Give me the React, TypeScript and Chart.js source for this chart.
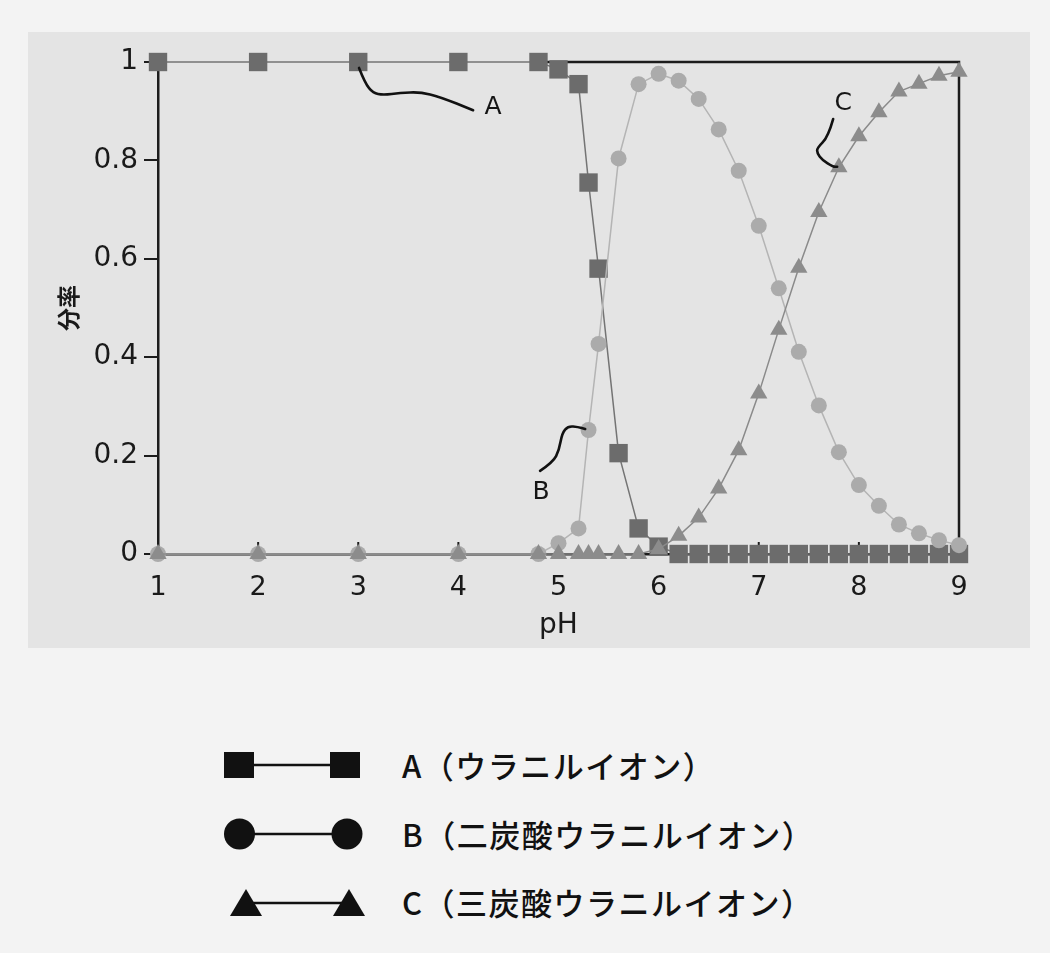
import React, { useEffect, useRef } from "react";
import { Chart, registerables } from "chart.js";

Chart.register(...registerables);

// ---- data ----
const pH = [1, 2, 3, 4, 4.8, 5.0, 5.2, 5.3, 5.4, 5.6, 5.8, 6.0, 6.2, 6.4, 6.6, 6.8, 7.0, 7.2, 7.4, 7.6, 7.8, 8.0, 8.2, 8.4, 8.6, 8.8, 9.0];
const seriesA = [1, 1, 1, 1, 1, 0.985, 0.955, 0.755, 0.58, 0.205, 0.052, 0.015, 0, 0, 0, 0, 0, 0, 0, 0, 0, 0, 0, 0, 0, 0, 0];
const seriesB = [0, 0, 0, 0, 0, 0.022, 0.052, 0.252, 0.427, 0.804, 0.955, 0.976, 0.962, 0.925, 0.863, 0.779, 0.667, 0.54, 0.411, 0.302, 0.207, 0.14, 0.098, 0.06, 0.042, 0.028, 0.018];
const seriesC = [0, 0, 0, 0, 0, 0, 0, 0, 0, 0, 0, 0.01, 0.037, 0.074, 0.133, 0.211, 0.326, 0.456, 0.582, 0.695, 0.786, 0.849, 0.898, 0.94, 0.956, 0.972, 0.98];
const xTicks = [1, 2, 3, 4, 5, 6, 7, 8, 9];
const yTicks = [0, 0.2, 0.4, 0.6, 0.8, 1];
const seriesNames = ["A（ウラニルイオン）", "B（二炭酸ウラニルイオン）", "C（三炭酸ウラニルイオン）"];
const xTitle = "pH";
const yTitle = "分率";
const topBorderStart = 4.8;

// annotation call-outs (data units)
const annLabels = ["A", "B", "C"];
const annLabelPos = [[4.347, 0.907], [4.826, 0.124], [7.843, 0.915]];
const annPathA = [[3.008, 0.988], [3.068, 0.957], [3.148, 0.937], [3.248, 0.933], [3.418, 0.937], [3.618, 0.939], [3.817, 0.929], [4.147, 0.902]];
const annPathB = [[4.816, 0.169], [4.946, 0.187], [5.006, 0.211], [5.036, 0.246], [5.096, 0.26], [5.196, 0.258], [5.266, 0.254]];
const annPathC = [[7.743, 0.884], [7.693, 0.848], [7.583, 0.825], [7.583, 0.815], [7.633, 0.801], [7.743, 0.787], [7.783, 0.787]];

const AXIS = "#1c1c1c";
const TEXT = "#1a1a1a";

const framePlugin = {
  id: "frame",
  beforeDatasetsDraw(chart: any) {
    const { ctx, chartArea: ca, scales } = chart;
    const x = scales.x;
    ctx.save();
    ctx.strokeStyle = AXIS;
    ctx.lineWidth = 2.5;
    ctx.lineCap = "square";
    ctx.beginPath();
    ctx.moveTo(x.getPixelForValue(topBorderStart), ca.top);
    ctx.lineTo(ca.right, ca.top);
    ctx.lineTo(ca.right, ca.bottom);
    ctx.stroke();
    ctx.lineCap = "butt";
    ctx.lineWidth = 2;
    for (const t of xTicks) {
      const px = x.getPixelForValue(t);
      ctx.beginPath();
      ctx.moveTo(px, ca.bottom);
      ctx.lineTo(px, ca.bottom - 12);
      ctx.stroke();
    }
    ctx.restore();
  },
};

const annotationPlugin = {
  id: "callouts",
  afterDatasetsDraw(chart: any) {
    const { ctx, scales } = chart;
    const x = scales.x;
    const y = scales.y;
    const toPx = (p: number[]) => [x.getPixelForValue(p[0]), y.getPixelForValue(p[1])];
    ctx.save();
    ctx.strokeStyle = "#111";
    ctx.lineWidth = 2.6;
    ctx.lineCap = "round";
    ctx.lineJoin = "round";
    for (const path of [annPathA, annPathB, annPathC]) {
      const pts = path.map(toPx);
      ctx.beginPath();
      ctx.moveTo(pts[0][0], pts[0][1]);
      for (let i = 1; i < pts.length - 1; i++) {
        const mx = (pts[i][0] + pts[i + 1][0]) / 2;
        const my = (pts[i][1] + pts[i + 1][1]) / 2;
        ctx.quadraticCurveTo(pts[i][0], pts[i][1], mx, my);
      }
      const last = pts[pts.length - 1];
      ctx.lineTo(last[0], last[1]);
      ctx.stroke();
    }
    ctx.fillStyle = "#151515";
    ctx.font = "25px 'DejaVu Sans'";
    ctx.textAlign = "center";
    ctx.textBaseline = "middle";
    annLabels.forEach((t, i) => {
      const [px, py] = toPx(annLabelPos[i]);
      ctx.fillText(t, px, py);
    });
    ctx.restore();
  },
};

function LegendRow({ kind, cy, text }: { kind: string; cy: number; text: string }) {
  const c = "#111";
  let marks: any = null;
  if (kind === "rect") {
    marks = (
      <>
        <rect x={4} y={7} width={30} height={26} fill={c} />
        <rect x={110} y={7} width={30} height={26} fill={c} />
      </>
    );
  } else if (kind === "circle") {
    marks = (
      <>
        <circle cx={19.5} cy={20} r={15.5} fill={c} />
        <circle cx={127} cy={20} r={15.5} fill={c} />
      </>
    );
  } else {
    marks = (
      <>
        <polygon points="26,7 10,34 42,34" fill={c} />
        <polygon points="129,7 113,34 145,34" fill={c} />
      </>
    );
  }
  const lineY = kind === "triangle" ? 21 : 20;
  return (
    <>
      <svg width={150} height={40} style={{ position: "absolute", left: 220, top: cy - 20 }}>
        <line x1={20} y1={lineY} x2={125} y2={lineY} stroke={c} strokeWidth={2.5} />
        {marks}
      </svg>
      <div
        style={{
          position: "absolute",
          left: 402,
          top: cy - 21,
          height: 42,
          lineHeight: "42px",
          fontSize: 31,
          fontWeight: 500,
          letterSpacing: "1.5px",
          fontFamily: "'Noto Sans CJK JP', 'Noto Sans', sans-serif",
          color: "#111",
          whiteSpace: "nowrap",
        }}
      >
        {text}
      </div>
    </>
  );
}

export default function App() {
  const ref = useRef<HTMLCanvasElement>(null);

  useEffect(() => {
    const canvas = ref.current;
    if (!canvas) return;
    const mk = (arr: number[]) => pH.map((v, i) => ({ x: v, y: arr[i] }));
    const chart = new Chart(canvas, {
      type: "line",
      data: {
        datasets: [
          {
            label: seriesNames[0],
            data: mk(seriesA),
            borderColor: "#747474",
            borderWidth: 1.5,
            pointStyle: "rect",
            pointRadius: 13,
            pointBackgroundColor: "#6c6c6c",
            pointBorderColor: "#6c6c6c",
            pointBorderWidth: 0,
            tension: 0,
            order: 3,
            clip: false,
          } as any,
          {
            label: seriesNames[1],
            data: mk(seriesB),
            borderColor: "#b4b4b4",
            borderWidth: 1.5,
            pointStyle: "circle",
            pointRadius: 8,
            pointBackgroundColor: "#ababab",
            pointBorderColor: "#ababab",
            pointBorderWidth: 0,
            tension: 0,
            order: 2,
            clip: false,
          } as any,
          {
            label: seriesNames[2],
            data: mk(seriesC),
            borderColor: "#8a8a8a",
            borderWidth: 1.5,
            pointStyle: "triangle",
            pointRadius: 10,
            pointBackgroundColor: "#8c8c8c",
            pointBorderColor: "#8c8c8c",
            pointBorderWidth: 0,
            tension: 0,
            order: 1,
            clip: false,
          } as any,
        ],
      },
      options: {
        animation: false,
        responsive: false,
        devicePixelRatio: 1,
        layout: { padding: { top: 30, right: 71, left: 0, bottom: 0 } },
        plugins: { legend: { display: false }, tooltip: { enabled: false } },
        scales: {
          x: {
            type: "linear",
            min: 1,
            max: 9,
            afterBuildTicks: (s: any) => {
              s.ticks = xTicks.map((v) => ({ value: v }));
            },
            afterFit: (s: any) => {
              s.height = 94;
            },
            grid: { display: false, drawTicks: false },
            border: { display: true, color: AXIS, width: 2.5 },
            ticks: {
              font: { family: "'DejaVu Sans'", size: 27 },
              color: TEXT,
              padding: 18,
              maxRotation: 0,
              autoSkip: false,
              callback: (v: any) => String(v),
            },
            title: {
              display: true,
              text: xTitle,
              font: { family: "'DejaVu Sans'", size: 28 },
              color: TEXT,
              padding: { top: 0, bottom: 5 },
            },
          },
          y: {
            type: "linear",
            min: 0,
            max: 1,
            afterBuildTicks: (s: any) => {
              s.ticks = yTicks.map((v) => ({ value: v }));
            },
            afterFit: (s: any) => {
              s.width = 130;
            },
            grid: { display: true, drawOnChartArea: false, drawTicks: true, tickLength: 14, color: AXIS, lineWidth: 2 },
            border: { display: true, color: AXIS, width: 2.5 },
            ticks: {
              font: { family: "'DejaVu Sans'", size: 28 },
              color: TEXT,
              padding: 6,
              autoSkip: false,
              callback: (v: any) => String(v),
            },
            title: {
              display: true,
              text: yTitle,
              font: { family: "'Noto Sans CJK JP'", size: 23, weight: "bold" },
              color: TEXT,
              padding: { top: 26, bottom: 0 },
            },
          },
        },
      } as any,
      plugins: [framePlugin, annotationPlugin],
    });
    return () => chart.destroy();
  }, []);

  return (
    <div style={{ position: "absolute", left: 0, top: 0, width: 1050, height: 953, background: "#f3f3f3", overflow: "hidden" }}>
      <div style={{ position: "absolute", left: 28, top: 32, width: 1002, height: 616, background: "#e4e4e4" }}>
        <canvas ref={ref} width={1002} height={616} style={{ display: "block", width: 1002, height: 616 }} />
      </div>
      <LegendRow kind="rect" cy={765} text={seriesNames[0]} />
      <LegendRow kind="circle" cy={834} text={seriesNames[1]} />
      <LegendRow kind="triangle" cy={902} text={seriesNames[2]} />
    </div>
  );
}
